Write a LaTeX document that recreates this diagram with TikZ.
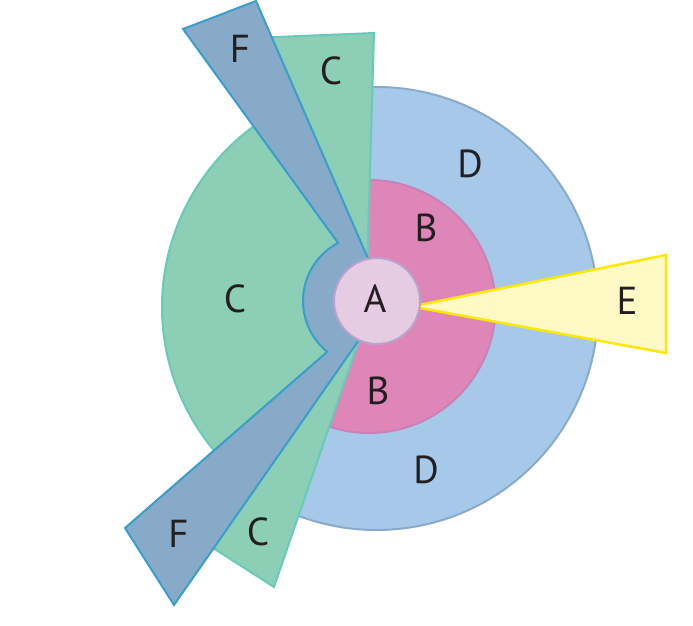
\documentclass[tikz,border=0pt]{standalone}
\usepackage{fontspec}
\setmainfont{PT Sans}
\definecolor{Dfill}{HTML}{A6C9EA}
\definecolor{Dline}{HTML}{8AAACA}
\definecolor{Bfill}{HTML}{DE86B8}
\definecolor{Bline}{HTML}{C981B8}
\definecolor{Afill}{HTML}{E5CCE3}
\definecolor{Aline}{HTML}{B9A2CB}
\definecolor{Cfill}{HTML}{8CCEB6}
\definecolor{Cline}{HTML}{6ACAB9}
\definecolor{Ffill}{HTML}{86AAC8}
\definecolor{Fline}{HTML}{3A9ECB}
\definecolor{Efill}{HTML}{FFF9C5}
\definecolor{Eline}{HTML}{FFE800}
\definecolor{Txt}{HTML}{231F20}
\begin{document}
\begin{tikzpicture}[x=1pt,y=-1pt,
  lbl/.style={inner sep=0pt, text=Txt, font=\fontsize{39}{40}\selectfont}]
\useasboundingbox (0,0) rectangle (693,625);
% big C sector (left)
\fill[Cfill] (386,307) -- ++(236:224) arc[start angle=236,end angle=138,radius=224] -- cycle;
\draw[Cline,line width=2] (386,307) ++(236:224) arc[start angle=236,end angle=138,radius=224];
% D ring
\fill[Dfill] (376.5,308.5) -- ++(-95:221.5) arc[start angle=-95,end angle=115,radius=221.5] -- cycle;
\draw[Dline,line width=2] (376.5,308.5) ++(-95:221.5) arc[start angle=-95,end angle=115,radius=221.5];
% B
\fill[Bfill] (369,306.5) -- ++(-95:126.5) arc[start angle=-95,end angle=118,radius=126.5] -- cycle;
\draw[Bline,line width=2] (369,306.5) ++(-95:126.5) arc[start angle=-95,end angle=118,radius=126.5];
% upper and lower C wedges
\filldraw[fill=Cfill,draw=Cline,line width=2] (266,37.4) -- (374,33) -- (366.6,290) -- cycle;
\filldraw[fill=Cfill,draw=Cline,line width=2] (369.4,310) -- (274,587) -- (210,546) -- cycle;
% F
\filldraw[fill=Ffill,draw=Fline,line width=2] (358.9,340) -- (174,605) -- (125,528) -- (327.2,351.8)
  arc[start angle=129.1,end angle=242.3,radius=65.5] -- (183,29) -- (256,1) -- (368.2,258.9) -- (377,301) -- cycle;
% E
\filldraw[fill=Efill,draw=Eline,line width=2.5] (412,306.5) -- (666,255) -- (666,353) -- cycle;
% A
\filldraw[fill=Afill,draw=Aline,line width=2] (377,301) circle[radius=43];
% labels
\node[lbl] (lA) at (375,299) {A};
\node[lbl] (lBt) at (426,228) {B};
\node[lbl] (lBb) at (378,391) {B};
\node[lbl] (lDt) at (470,164) {D};
\node[lbl] (lDb) at (426,470) {D};
\node[lbl] (lE) at (627,301) {E};
\node[lbl] (lCt) at (331,71) {C};
\node[lbl] (lCl) at (235,299) {C};
\node[lbl] (lCb) at (258,532) {C};
\node[lbl] (lFt) at (240,49) {F};
\node[lbl] (lFb) at (178.5,534) {F};
\end{tikzpicture}
\end{document}
